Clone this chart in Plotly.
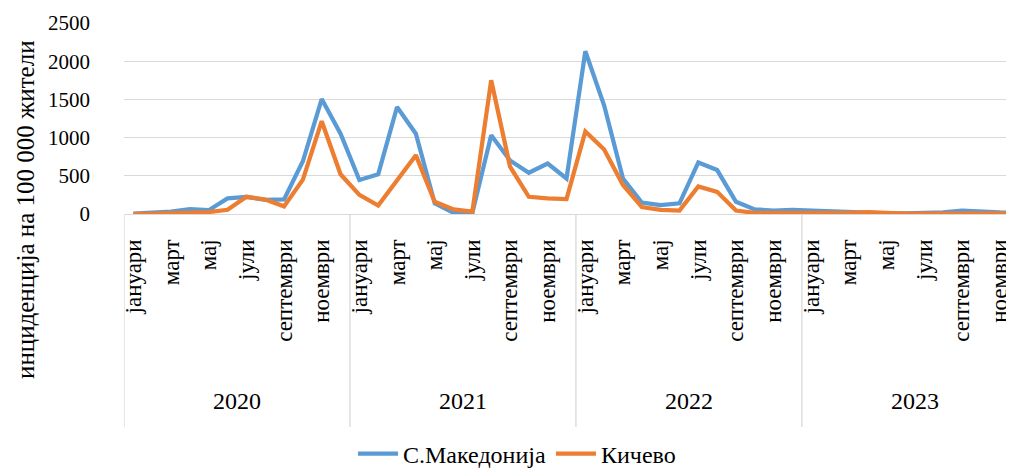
import plotly.graph_objects as go

years = ["2020", "2021", "2022", "2023"]
months = ["јануари", "февруари", "март", "април", "мај", "јуни",
          "јули", "август", "септември", "октомври", "ноември", "декември"]

mk_2020 = [5, 15, 30, 65, 50, 205, 225, 185, 190, 690, 1505, 1050]
mk_2021 = [445, 520, 1400, 1050, 140, 15, 15, 1030, 700, 540, 660, 465]
mk_2022 = [2130, 1420, 465, 150, 115, 140, 675, 575, 160, 60, 45, 55]
mk_2023 = [45, 35, 15, 10, 8, 8, 10, 20, 45, 30, 20, 15]

ki_2020 = [0, 5, 5, 10, 25, 55, 225, 190, 100, 450, 1215, 520]
ki_2021 = [250, 110, 440, 770, 160, 60, 30, 1750, 620, 225, 205, 195]
ki_2022 = [1080, 845, 380, 90, 55, 45, 360, 290, 45, 15, 15, 15]
ki_2023 = [8, 8, 15, 25, 10, 5, 5, 5, 10, 10, 10, 10]

series_mk = mk_2020 + mk_2021 + mk_2022 + mk_2023
series_ki = ki_2020 + ki_2021 + ki_2022 + ki_2023
name_mk = "С.Македонија"
name_ki = "Кичево"
y_title = "инциденција на 100 000 жители"
y_ticks = [0, 500, 1000, 1500, 2000, 2500]

n = len(years) * len(months)
xs = list(range(n))
tick_idx = list(range(0, n, 2))
tick_txt = [months[i % 12] for i in tick_idx]

FONT = "Liberation Serif"
GRID = "#d9d9d9"

fig = go.Figure()
fig.add_trace(go.Scatter(x=xs, y=series_mk, mode="lines", name=name_mk,
                         line=dict(color="#5B9BD5", width=4.25)))
fig.add_trace(go.Scatter(x=xs, y=series_ki, mode="lines", name=name_ki,
                         line=dict(color="#ED7D31", width=4.25)))

# page body has an 8px margin: lay the figure out in screen coordinates minus OFF
OFF = 8
SW, SH = 1014, 470               # screen size
W, H = SW - OFF, SH - OFF        # figure size
L, T, B = 124 - OFF, 23 - OFF, 214 - OFF
ph = B - T
pw = W - L

def py(screen_y):
    return (B - (screen_y - OFF)) / ph

def px(screen_x):
    return ((screen_x - OFF) - L) / pw

shapes = []
for k in range(len(years) + 1):
    shapes.append(dict(type="line", xref="x", yref="paper",
                       x0=k * 12 - 0.5, x1=k * 12 - 0.5, y0=0, y1=py(427),
                       line=dict(color=GRID, width=1.3)))

annotations = []
for k, yr in enumerate(years):
    annotations.append(dict(x=k * 12 + 5.5, xref="x", y=py(401), yref="paper",
                            text=yr, showarrow=False, xanchor="center", yanchor="middle",
                            font=dict(family=FONT, size=24, color="black")))
annotations.append(dict(x=px(25), xref="paper", y=py(210), yref="paper",
                        text=y_title, textangle=-90, showarrow=False,
                        xanchor="center", yanchor="middle",
                        font=dict(family=FONT, size=25, color="black")))

fig.update_layout(
    width=W, height=H,
    margin=dict(l=L, r=0, t=T, b=H - B, pad=0, autoexpand=False),
    paper_bgcolor="white", plot_bgcolor="white",
    font=dict(family=FONT, size=21, color="black"),
    showlegend=True,
    legend=dict(orientation="h", x=px(517), xanchor="center",
                y=py(454), yanchor="middle", font=dict(family=FONT, size=24, color="black"),
                itemwidth=40, tracegroupgap=0, bgcolor="rgba(0,0,0,0)"),
    shapes=shapes,
    annotations=annotations,
)
fig.update_xaxes(range=[-0.5, pw / 18.83 - 0.5], tickmode="array",
                 tickvals=tick_idx, ticktext=tick_txt, tickangle=-90,
                 showgrid=False, zeroline=False, showline=True, linecolor=GRID,
                 linewidth=1.3, ticks="", ticklabelstandoff=15,
                 tickfont=dict(family=FONT, size=23, color="black"))
fig.update_yaxes(range=[0, 2500], tickvals=y_ticks, showgrid=True, gridcolor=GRID,
                 gridwidth=1.3, zeroline=False, showline=False, ticks="",
                 ticklabelstandoff=33,
                 tickfont=dict(family=FONT, size=21, color="black"))

fig.write_html("out.html")
